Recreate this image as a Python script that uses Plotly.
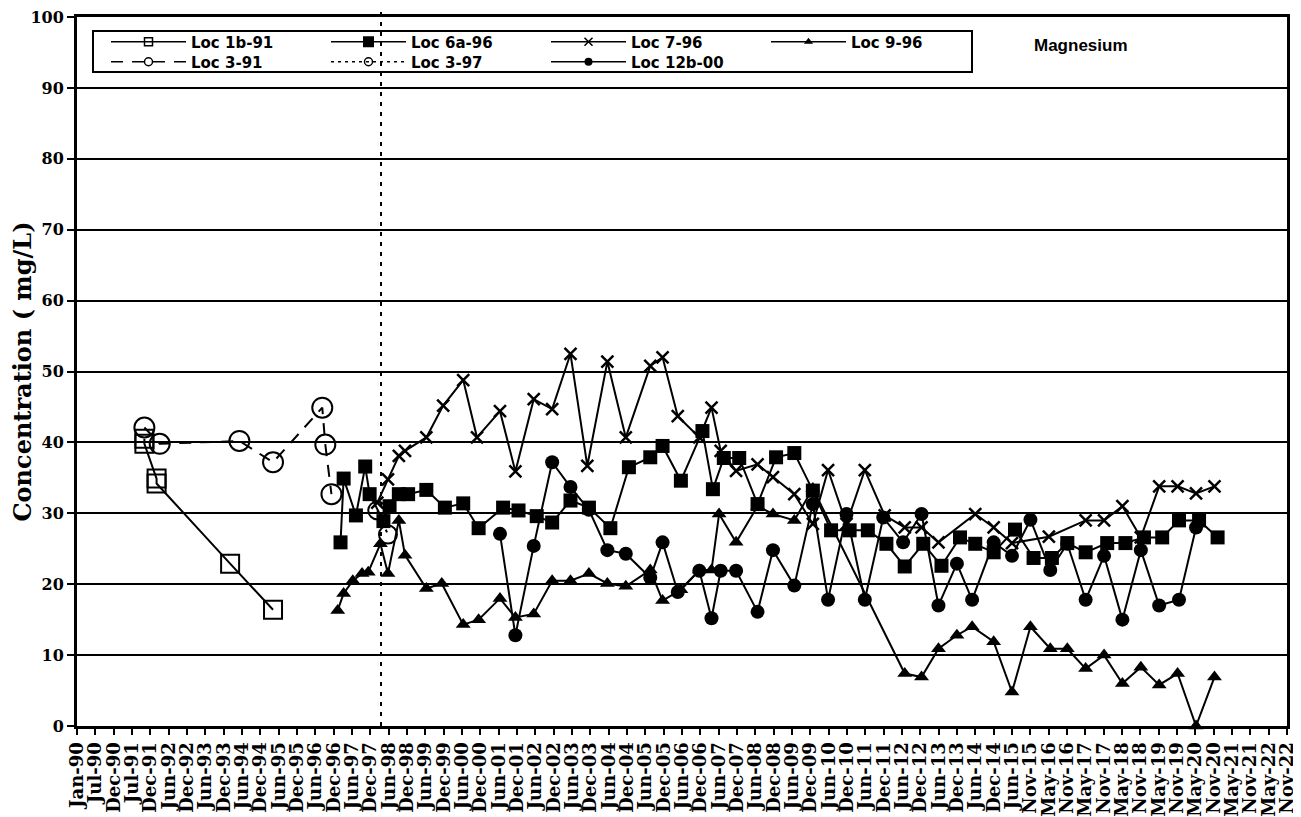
import plotly.graph_objects as go
import pandas as pd

# ---------------- data ----------------
x_ticklabels = ["Jan-90", "Jul-90", "Dec-90", "Jul-91", "Dec-91", "Jun-92", "Dec-92", "Jun-93",
                "Dec-93", "Jun-94", "Dec-94", "Jun-95", "Dec-95", "Jun-96", "Dec-96", "Jun-97",
                "Dec-97", "Jun-98", "Dec-98", "Jun-99", "Dec-99", "Jun-00", "Dec-00", "Jun-01",
                "Dec-01", "Jun-02", "Dec-02", "Jun-03", "Dec-03", "Jun-04", "Dec-04", "Jun-05",
                "Dec-05", "Jun-06", "Dec-06", "Jun-07", "Dec-07", "Jun-08", "Dec-08", "Jun-09",
                "Dec-09", "Jun-10", "Dec-10", "Jun-11", "Dec-11", "Jun-12", "Dec-12", "Jun-13",
                "Dec-13", "Jun-14", "Dec-14", "Jun-15", "Nov-15", "May-16", "Nov-16", "May-17",
                "Nov-17", "May-18", "Nov-18", "May-19", "Nov-19", "May-20", "Nov-20", "May-21",
                "Nov-21", "May-22", "Nov-22"]
y_tickvals = [0, 10, 20, 30, 40, 50, 60, 70, 80, 90, 100]

loc1b_91_dates = ["1991-11", "1991-11", "1992-03", "1992-03", "1994-03", "1995-05"]
loc1b_91_vals = [40.5, 39.8, 34.9, 34.2, 22.9, 16.4]

loc3_91_dates = ["1991-11", "1992-04", "1994-06", "1995-05", "1996-09", "1996-10", "1996-12"]
loc3_91_vals = [42.1, 39.8, 40.2, 37.2, 44.9, 39.7, 32.7]

loc3_97_dates = ["1998-03", "1998-06-15"]
loc3_97_vals = [30.4, 27.0]

loc6a_96_dates = ["1997-03", "1997-04", "1997-08", "1997-11", "1997-12-15", "1998-05", "1998-07",
                  "1998-10", "1999-01", "1999-07", "2000-01", "2000-07", "2000-12", "2001-08",
                  "2002-01", "2002-07", "2002-12", "2003-06", "2003-12", "2004-07", "2005-01",
                  "2005-08", "2005-12", "2006-06", "2007-01", "2007-04-15", "2007-08", "2008-01",
                  "2008-07", "2009-01", "2009-07", "2010-01", "2010-07", "2011-01", "2011-07",
                  "2012-01", "2012-07", "2013-01", "2013-07", "2014-01", "2014-06", "2014-12",
                  "2015-07", "2016-01", "2016-07", "2016-12", "2017-06", "2018-01", "2018-07",
                  "2019-01", "2019-07", "2019-12-15", "2020-07", "2021-01"]
loc6a_96_vals = [25.9, 34.9, 29.7, 36.6, 32.7, 28.9, 31.0, 32.7, 32.7, 33.3,
                 30.8, 31.4, 27.9, 30.8, 30.4, 29.6, 28.7, 31.8, 30.8, 27.9,
                 36.5, 37.9, 39.5, 34.6, 41.6, 33.4, 37.8, 37.8, 31.3, 37.9,
                 38.5, 33.2, 27.6, 27.6, 27.6, 25.7, 22.5, 25.7, 22.6, 26.6,
                 25.7, 24.5, 27.7, 23.7, 23.7, 25.8, 24.5, 25.8, 25.8, 26.6,
                 26.6, 29.0, 29.0, 26.6]

loc7_96_dates = ["1998-03", "1998-06-15", "1998-10", "1998-12", "1999-07", "1999-12-15", "2000-07",
                 "2000-11-15", "2001-07", "2001-12", "2002-06", "2002-12", "2003-06", "2003-11-15",
                 "2004-06", "2004-12", "2005-08", "2005-12", "2006-05", "2006-12", "2007-04",
                 "2007-07", "2007-12", "2008-07", "2008-12", "2009-07", "2010-01", "2010-06",
                 "2010-12", "2011-06", "2011-12-15", "2012-07", "2012-12-15", "2013-06", "2014-06",
                 "2014-12", "2015-06", "2016-06", "2017-06", "2017-12", "2018-06", "2018-12",
                 "2019-06", "2019-12", "2020-06", "2020-12"]
loc7_96_vals = [31.5, 34.8, 38.1, 38.8, 40.7, 45.2, 48.8, 40.7, 44.4, 35.9,
                46.1, 44.7, 52.5, 36.7, 51.4, 40.7, 50.8, 52.0, 43.7, 40.7,
                44.9, 38.8, 36.0, 36.9, 35.1, 32.7, 28.5, 36.1, 28.5, 36.1,
                29.7, 28.0, 28.0, 25.9, 29.9, 28.0, 25.8, 26.7, 29.0, 29.0,
                31.0, 26.6, 33.8, 33.8, 32.8, 33.8]

loc9_96_dates = ["1997-02", "1997-04", "1997-07", "1997-10", "1997-12", "1998-04", "1998-06-15",
                 "1998-10", "1998-12", "1999-07", "1999-12", "2000-07", "2000-12", "2001-07",
                 "2001-12", "2002-06", "2002-12", "2003-06", "2003-12", "2004-06", "2004-12",
                 "2005-08", "2005-12", "2006-06", "2006-12", "2007-04", "2007-06-15", "2007-12",
                 "2008-07", "2008-12", "2009-07", "2010-01", "2012-07", "2012-12-15", "2013-06",
                 "2013-12", "2014-05", "2014-12", "2015-06", "2015-12", "2016-06-15", "2016-12",
                 "2017-06", "2017-12", "2018-06", "2018-12", "2019-06", "2019-12", "2020-06",
                 "2020-12"]
loc9_96_vals = [16.3, 18.7, 20.5, 21.5, 21.7, 25.7, 21.5, 29.0, 24.1, 19.4,
                20.1, 14.3, 15.0, 18.0, 15.3, 15.8, 20.5, 20.5, 21.5, 20.1,
                19.7, 22.0, 17.7, 19.2, 22.0, 22.0, 29.9, 25.9, 31.0, 29.9,
                29.0, 33.5, 7.4, 6.9, 10.9, 12.8, 14.0, 11.9, 4.8, 14.0,
                10.9, 10.9, 8.1, 10.0, 6.0, 8.3, 5.8, 7.4, 0.0, 6.9]

loc12b_00_dates = ["2001-07", "2001-12", "2002-06", "2002-12", "2003-06", "2003-12", "2004-06",
                   "2004-12", "2005-08", "2005-12", "2006-05", "2006-12", "2007-04", "2007-07",
                   "2007-12", "2008-07", "2008-12", "2009-07", "2010-01", "2010-06", "2010-12",
                   "2011-06", "2011-12", "2012-06-15", "2012-12-15", "2013-06", "2013-12",
                   "2014-05", "2014-12", "2015-06", "2015-12", "2016-06-15", "2016-12", "2017-06",
                   "2017-12", "2018-06", "2018-12", "2019-06", "2019-12-15", "2020-06"]
loc12b_00_vals = [27.1, 12.8, 25.4, 37.2, 33.7, 30.5, 24.8, 24.3, 20.9, 25.9,
                  18.9, 21.9, 15.2, 21.9, 21.9, 16.1, 24.8, 19.8, 31.3, 17.8,
                  29.9, 17.8, 29.4, 25.9, 29.9, 17.0, 22.9, 17.8, 25.9, 24.0,
                  29.1, 22.0, 25.7, 17.8, 24.0, 15.0, 24.8, 17.0, 17.8, 28.0]

marker_date = "1998-04-07"   # vertical dotted reference line

# ---------------- axis ticks: every 182 days from Jan-90 ----------------
axis_start = pd.Timestamp("1990-01-01")
tick_dates = [axis_start + pd.Timedelta(days=182 * k) for k in range(len(x_ticklabels))]
axis_end = tick_dates[-1]
tick_strs = [d.strftime("%Y-%m-%d") for d in tick_dates]

BLACK = "black"
fig = go.Figure()


def add(name, dates, vals, symbol, size, leg_size, dash="solid", legend="legend",
        open_=False, lw_marker=2):
    mline = dict(color=BLACK, width=lw_marker if (open_ or "x" in symbol) else 0)
    # data trace (legend entry handled by a linked legend-only trace with smaller glyphs)
    fig.add_trace(go.Scatter(
        x=dates, y=vals, name=name, mode="lines+markers", legendgroup=name,
        showlegend=False,
        line=dict(color=BLACK, width=2, dash=dash),
        marker=dict(symbol=symbol, size=size, color=BLACK, line=mline),
        cliponaxis=False))
    fig.add_trace(go.Scatter(
        x=[None], y=[None], name=name, mode="lines+markers", legendgroup=name,
        showlegend=True, legend=legend,
        line=dict(color=BLACK, width=1.5, dash=dash),
        marker=dict(symbol=symbol, size=leg_size, color=BLACK,
                    line=dict(color=BLACK, width=1.5 if (open_ or "x" in symbol) else 0))))


add("Loc 1b-91", loc1b_91_dates, loc1b_91_vals, "square-open", 18, 8, open_=True)
add("Loc 6a-96", loc6a_96_dates, loc6a_96_vals, "square", 14, 11)
add("Loc 7-96", loc7_96_dates, loc7_96_vals, "x-thin", 12, 8, lw_marker=2.5)
add("Loc 9-96", loc9_96_dates, loc9_96_vals, "triangle-up", 13, 8)
add("Loc 3-91", loc3_91_dates, loc3_91_vals, "circle-open", 20, 8, dash="12px,9px",
    legend="legend2", open_=True)
add("Loc 3-97", loc3_97_dates, loc3_97_vals, "circle-open", 18, 8, dash="3px,4px",
    legend="legend2", open_=True)
add("Loc 12b-00", loc12b_00_dates, loc12b_00_vals, "circle", 14, 8, legend="legend2")

# paper position of the vertical reference line
span = (axis_end - axis_start).total_seconds()
mx = (pd.Timestamp(marker_date) - axis_start).total_seconds() / span

# page geometry (the html body adds an 8 px offset to the figure)
PAGE_W, PAGE_H, OFF = 1301, 817, 8
PLOT_TOP, PLOT_BOTTOM, PLOT_LEFT, PLOT_RIGHT = 17, 726, 77, 1287
ph = PLOT_BOTTOM - PLOT_TOP
pw = PLOT_RIGHT - PLOT_LEFT
FIG_W, FIG_H = PAGE_W - OFF, PAGE_H - OFF


def py(px):
    return (PLOT_BOTTOM - px) / ph


def pxr(px):
    return (px - PLOT_LEFT) / pw


legend_font = dict(family="DejaVu Sans", size=15, color=BLACK, weight="bold")
legend_common = dict(orientation="h", xanchor="left", yanchor="middle",
                     entrywidth=130, entrywidthmode="pixels", itemwidth=75,
                     font=legend_font, bgcolor="rgba(0,0,0,0)", borderwidth=0,
                     itemsizing="trace", traceorder="normal")

serif_bold = dict(family="DejaVu Serif", color=BLACK, weight="bold")

fig.update_layout(
    width=FIG_W, height=FIG_H,
    margin=dict(l=PLOT_LEFT - OFF, r=FIG_W - (PLOT_RIGHT - OFF), t=PLOT_TOP - OFF,
                b=FIG_H - (PLOT_BOTTOM - OFF), autoexpand=False),
    plot_bgcolor="white", paper_bgcolor="white",
    showlegend=True,
    legend=dict(legend_common, x=pxr(106), y=py(42)),
    legend2=dict(legend_common, x=pxr(106), y=py(62)),
    xaxis=dict(type="date", range=[tick_strs[0], tick_strs[-1]], automargin=False,
               tickmode="array", tickvals=tick_strs, ticktext=x_ticklabels,
               tickangle=-90, ticks="outside", ticklen=6, tickwidth=2, tickcolor=BLACK,
               showgrid=False, zeroline=False, showline=True, linecolor=BLACK,
               linewidth=3, mirror=True, ticklabeloverflow="allow",
               tickfont=dict(serif_bold, size=18)),
    yaxis=dict(range=[0, 100], tickmode="array", tickvals=y_tickvals, automargin=False,
               showgrid=True, gridcolor=BLACK, gridwidth=2, zeroline=False,
               showline=True, linecolor=BLACK, linewidth=3, mirror=True,
               ticks="outside", ticklen=7, tickwidth=2, tickcolor=BLACK,
               ticklabeloverflow="allow",
               tickfont=dict(serif_bold, size=16),
               title=dict(text="Concentration ( mg/L)", font=dict(serif_bold, size=24),
                          standoff=4)),
    shapes=[
        dict(type="rect", xref="paper", yref="paper",
             x0=pxr(93), x1=pxr(972), y0=py(72), y1=py(31),
             line=dict(color=BLACK, width=2), fillcolor="rgba(0,0,0,0)", layer="above"),
        dict(type="line", xref="paper", yref="paper", x0=mx, x1=mx, y0=0, y1=py(10),
             line=dict(color=BLACK, width=2, dash="4px,6px"), layer="above"),
    ],
    annotations=[
        dict(text="Magnesium", xref="paper", yref="paper", x=pxr(1081), y=py(45),
             xanchor="center", yanchor="middle", showarrow=False,
             font=dict(family="Liberation Sans", size=17, color=BLACK, weight="bold")),
    ],
)

fig.write_html("out.html")
